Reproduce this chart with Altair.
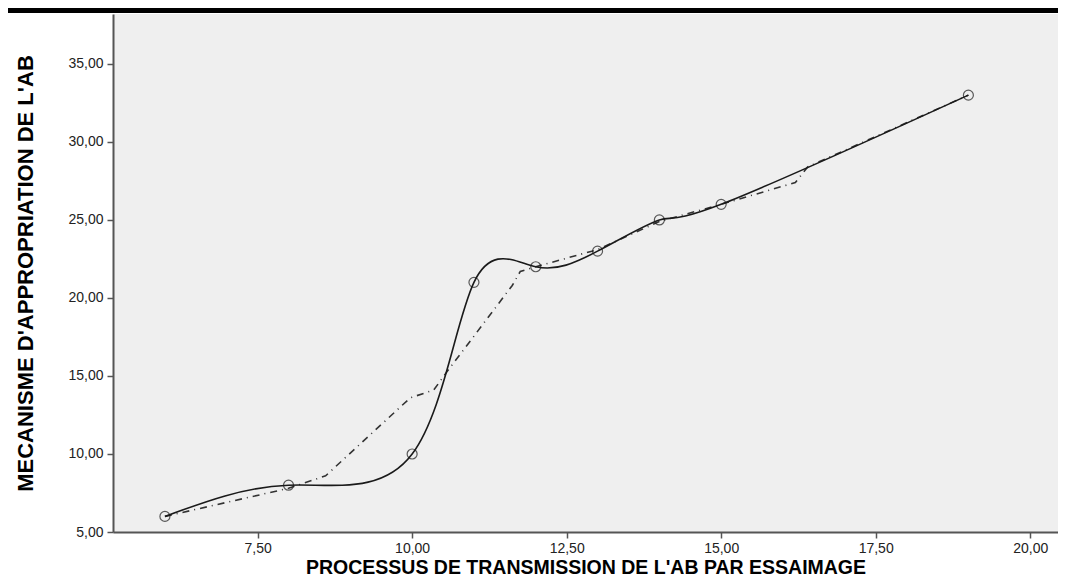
import altair as alt
import pandas as pd

# Observed points
x_pts = [6, 8, 10, 11, 12, 13, 14, 15, 19]
y_pts = [6, 8, 10, 21, 22, 23, 25, 26, 33]

# Dash-dot fit line vertices
fit_x = [6, 8, 8.6, 9.97, 10.35, 10.55, 11.62, 11.75, 12, 13, 14, 15, 16.2, 16.4, 19]
fit_y = [6, 7.8, 8.6, 13.6, 14.1, 15.2, 20.8, 21.7, 22, 23.1, 24.9, 26, 27.4, 28.4, 33]

x_ticks = [7.5, 10, 12.5, 15, 17.5, 20]
y_ticks = [5, 10, 15, 20, 25, 30, 35]

x_title = "PROCESSUS DE TRANSMISSION DE L'AB PAR ESSAIMAGE"
y_title = "MECANISME D'APPROPRIATION DE L'AB"

W, H = 945, 518
pts = pd.DataFrame({"x": x_pts, "y": y_pts})
fit = pd.DataFrame({"x": fit_x, "y": fit_y})

lab = "replace(format(datum.value, '.2f'), '.', ',')"
xs = alt.Scale(domain=[5.16, 20.45], nice=False, zero=False)
ys = alt.Scale(domain=[5, 38.2], nice=False, zero=False)

xax = alt.Axis(values=x_ticks, labelExpr=lab, title=x_title, grid=False,
               domainColor="#555555", domainWidth=2, tickColor="#555555", tickWidth=1.5,
               tickSize=6, labelFont="Liberation Sans", labelFontSize=14, labelColor="#222222",
               labelPadding=3, titleFont="Liberation Sans", titleFontSize=19.5, titleFontWeight="bold",
               titleColor="#000000", titlePadding=3)
yax = alt.Axis(values=y_ticks, labelExpr=lab, title=y_title, grid=False,
               domainColor="#555555", domainWidth=2, tickColor="#555555", tickWidth=1.5,
               tickSize=6, labelFont="Liberation Sans", labelFontSize=14, labelColor="#222222",
               labelPadding=4, titleFont="Liberation Sans", titleFontSize=22, titleFontWeight="bold",
               titleColor="#000000", titlePadding=30)

base_p = alt.Chart(pts)
spline = base_p.mark_line(interpolate="natural", color="#1a1a1a", strokeWidth=1.6).encode(
    x=alt.X("x:Q", scale=xs, axis=xax), y=alt.Y("y:Q", scale=ys, axis=yax))
fitline = alt.Chart(fit).mark_line(color="#333333", strokeWidth=1.6, strokeDash=[7, 5, 1, 5]).encode(
    x=alt.X("x:Q", scale=xs), y=alt.Y("y:Q", scale=ys))
circles = base_p.mark_point(shape="circle", filled=False, color="#1a1a1a", size=100, strokeWidth=1.2).encode(
    x=alt.X("x:Q", scale=xs), y=alt.Y("y:Q", scale=ys))
topbar = alt.Chart(pd.DataFrame({"a": [0]})).mark_rect(color="#000000").encode(
    x=alt.value(-105), x2=alt.value(W), y=alt.value(-6), y2=alt.value(-1))

chart = alt.layer(fitline, spline, circles, topbar).properties(
    width=W, height=H,
    autosize=alt.AutoSizeParams(type="none"),
    padding={"left": 105, "top": 6, "right": 0, "bottom": 45},
).configure_view(fill="#EFEFEF", strokeWidth=0)

chart.save("out.html", embed_options={"renderer": "svg", "actions": False})
